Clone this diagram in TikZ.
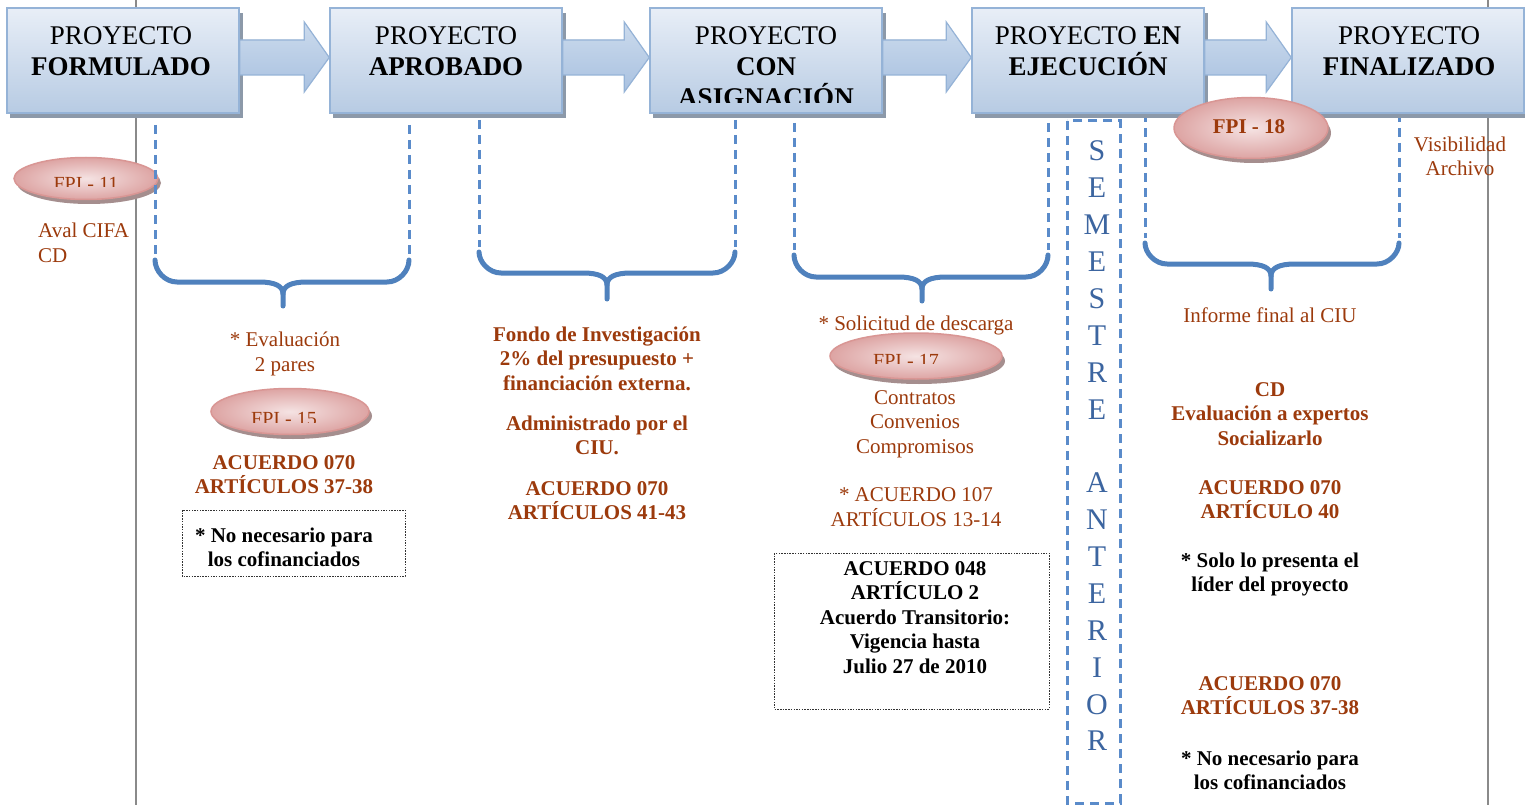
\documentclass[tikz,border=0pt]{standalone}
\usepackage{fontspec}
\setmainfont{Liberation Serif}
\usetikzlibrary{shapes.geometric,calc}
\definecolor{brn}{HTML}{9C3A0C}
\definecolor{bxbd}{HTML}{95B3D7}
\definecolor{bxtop}{HTML}{E8EEF7}
\definecolor{bxbot}{HTML}{B7CBE3}
\definecolor{shd}{HTML}{8C99A9}
\definecolor{arrtop}{HTML}{CCDBED}
\definecolor{arrbot}{HTML}{A9C1E0}
\definecolor{bracec}{HTML}{4F81BD}
\definecolor{dashc}{HTML}{5A8BCA}
\definecolor{pinkin}{HTML}{F5E3E3}
\definecolor{pinkout}{HTML}{DDA4A3}
\definecolor{pinkbd}{HTML}{D99694}
\definecolor{pinkshd}{HTML}{A58E8E}
\definecolor{semc}{HTML}{3C65A0}
\definecolor{grayc}{HTML}{8A8A8A}
\tikzset{
  stagebox/.style={draw=bxbd, line width=1.5pt, top color=bxtop, bottom color=bxbot, minimum width=232pt, minimum height=105pt, inner sep=0pt},
  boxshadow/.style={fill=shd},
  flowarrow/.style={draw=bxbd, line width=1.2pt, top color=arrtop, bottom color=arrbot},
  fpi/.style={ellipse, draw=pinkbd, line width=1.5pt, shading=radial, inner color=pinkin, outer color=pinkout, inner sep=0pt},
  fpishadow/.style={fill=pinkshd},
  guide/.style={draw=dashc, line width=3pt, dash pattern=on 9pt off 6pt},
  bracestyle/.style={draw=bracec, line width=5pt, line cap=round, line join=round},
  grayline/.style={draw=grayc, line width=1.5pt},
  notebox/.style={draw=black!80, line width=0.8pt, dash pattern=on 1.5pt off 1.2pt},
  hdr/.style={font=\fontsize{27}{31}\selectfont, anchor=base, inner sep=0pt, align=center},
  body/.style={font=\fontsize{21}{24.5}\selectfont, anchor=base, inner sep=0pt, align=center, text=brn},
  bodyb/.style={body, font=\fontsize{21}{24.5}\selectfont\bfseries},
  blackb/.style={font=\fontsize{21}{24.5}\selectfont\bfseries, anchor=base, inner sep=0pt, align=center, text=black},
  fpitxt/.style={font=\fontsize{20}{24}\selectfont, anchor=base, inner sep=0pt, text=brn},
  semletter/.style={font=\fontsize{30}{36}\selectfont, anchor=base, inner sep=0pt, text=semc}
}
\newcommand{\blockarrow}[2]{%
  \fill[shd, shift={(3,4)}] ($(#1.east)+(0,-20.5)$) -- ($(#2.west)+(-25,-20.5)$) -- ($(#2.west)+(-25,-38.5)$) -- ($(#2.west)+(0,-3)$) -- ($(#2.west)+(-25,31.5)$) -- ($(#2.west)+(-25,14.5)$) -- ($(#1.east)+(0,14.5)$) -- cycle;
  \path[flowarrow] ($(#1.east)+(0,-20.5)$) -- ($(#2.west)+(-25,-20.5)$) -- ($(#2.west)+(-25,-38.5)$) -- ($(#2.west)+(0,-3)$) -- ($(#2.west)+(-25,31.5)$) -- ($(#2.west)+(-25,14.5)$) -- ($(#1.east)+(0,14.5)$) -- cycle;}
\newcommand{\curlybrace}[6]{%
  \draw[bracestyle] (#1,#4) .. controls (#1,#5-11) and (#1+10,#5) .. (#1+22,#5) -- (#3-24,#5) .. controls (#3-8,#5) and (#3,#5+4) .. (#3,#5+12) -- (#3,#6);
  \draw[bracestyle] (#3,#5+12) .. controls (#3,#5+4) and (#3+8,#5) .. (#3+24,#5) -- (#2-22,#5) .. controls (#2-10,#5) and (#2,#5-11) .. (#2,#4);}
\begin{document}
\begin{tikzpicture}[x=1pt,y=-1pt]
\useasboundingbox (0,0) rectangle (1525,805);
\fill[white] (0,0) rectangle (1525,805);
% gray vertical lines
\draw[grayline] (136,0) -- (136,805);
\draw[grayline] (1488,0) -- (1488,805);
% ellipses (lower ones)
\fill[fpishadow] (89,183) ellipse [x radius=72pt, y radius=21pt];
\node[fpi, minimum width=144pt, minimum height=42pt] (e11) at (86,178.5) {};
\fill[fpishadow] (293,416) ellipse [x radius=79pt, y radius=23pt];
\node[fpi, minimum width=158pt, minimum height=46pt] (e15) at (290,411.5) {};
\fill[fpishadow] (919,361) ellipse [x radius=86pt, y radius=23pt];
\node[fpi, minimum width=172pt, minimum height=46pt] (e17) at (916,356) {};
% dashed guides
\draw[guide] (155,125) -- (155,255);
\draw[guide] (409,125) -- (409,255);
\draw[guide] (479,120) -- (479,247);
\draw[guide] (735,120) -- (735,247);
\draw[guide] (794,123) -- (794,250);
\draw[guide] (1048,123) -- (1048,250);
\draw[guide] (1145,113) -- (1145,238);
\draw[guide] (1399,113) -- (1399,238);
% braces
\curlybrace{155}{409}{283}{260}{282}{306}
\curlybrace{479}{735}{607}{252}{273}{299}
\curlybrace{794}{1048}{922}{255}{277}{301}
\curlybrace{1145}{1399}{1271}{243}{264}{289}
% semestre anterior box
\draw[guide] (1067,121) rectangle (1120,803);
% stage boxes
\fill[boxshadow] (10,13) rectangle (243,118);
\fill[boxshadow] (333,13) rectangle (566,118);
\fill[boxshadow] (653,13) rectangle (886,118);
\fill[boxshadow] (975,13) rectangle (1208,118);
\fill[boxshadow] (1295,13) rectangle (1528,118);
\node[stagebox] (b1) at (123,60.5) {};
\node[stagebox] (b2) at (446,60.5) {};
\node[stagebox] (b3) at (766,60.5) {};
\node[stagebox] (b4) at (1088,60.5) {};
\node[stagebox] (b5) at (1408,60.5) {};
\blockarrow{b1}{b2}
\blockarrow{b2}{b3}
\blockarrow{b3}{b4}
\blockarrow{b4}{b5}
% header texts
\node[hdr] (h1a) at (121,45) {PROYECTO};
\node[hdr] (h1b) at (121,76) {\bfseries FORMULADO};
\node[hdr] (h2a) at (446,45) {PROYECTO};
\node[hdr] (h2b) at (446,76) {\bfseries APROBADO};
\node[hdr] (h3a) at (766,45) {PROYECTO};
\node[hdr] (h3b) at (766,76) {\bfseries CON};
\begin{scope}
\clip (650,8) rectangle (882,103);
\node[hdr] (h3c) at (766,107) {\bfseries ASIGNACIÓN};
\end{scope}
\node[hdr] (h4a) at (1088,45) {PROYECTO \textbf{EN}};
\node[hdr] (h4b) at (1088,76) {\bfseries EJECUCIÓN};
\node[hdr] (h5a) at (1409,45) {PROYECTO};
\node[hdr] (h5b) at (1409,76) {\bfseries FINALIZADO};
% FPI-18 ellipse
\fill[fpishadow] (1254,133) ellipse [x radius=77pt, y radius=30pt];
\node[fpi, minimum width=154pt, minimum height=61pt] (e18) at (1251,128) {};
\node[fpitxt, font=\fontsize{21}{24}\selectfont\bfseries] (t18) at (1249,133.5) {FPI - 18};
% clipped FPI labels
\begin{scope}
\clip (10,150) rectangle (160,187);
\node[fpitxt] (t11) at (86,190) {FPI - 11};
\end{scope}
\begin{scope}
\clip (200,380) rectangle (380,422);
\node[fpitxt] (t15) at (284,425) {FPI - 15};
\end{scope}
\begin{scope}
\clip (820,330) rectangle (1010,363.5);
\node[fpitxt] (t17) at (906,367) {FPI - 17};
\end{scope}
% column 1 (multi-line nodes: base = last line baseline)
\node[body, align=left, anchor=base west] (aval) at (38,262) {Aval CIFA\\CD};
\node[body] (eval) at (285,371) {* Evaluación\\2 pares};
\node[bodyb] (ac1) at (284,493.5) {ACUERDO 070\\ARTÍCULOS 37-38};
\draw[notebox] (182,510) rectangle (405,576);
\node[blackb] (nn1) at (284,566.5) {* No necesario para\\los cofinanciados};
% column 2
\node[bodyb] (fondo) at (597,390) {Fondo de Investigación\\2\% del presupuesto +\\financiación externa.};
\node[bodyb] (admin) at (597,454.5) {Administrado por el\\CIU.};
\node[bodyb] (ac2) at (597,519.5) {ACUERDO 070\\ARTÍCULOS 41-43};
% column 3
\node[body] (sol) at (916,330) {* Solicitud de descarga};
\node[body] (contr) at (915,453) {Contratos\\Convenios\\Compromisos};
\node[body] (ac3) at (916,526) {* ACUERDO 107\\ARTÍCULOS 13-14};
\draw[notebox] (774,553) rectangle (1049,709);
\node[blackb] (ac4) at (915,673) {ACUERDO 048\\ARTÍCULO 2\\Acuerdo Transitorio:\\Vigencia hasta\\Julio 27 de 2010};
% column 4
\node[body] (inf) at (1270,322) {Informe final al CIU};
\node[bodyb] (cd) at (1270,445) {CD\\Evaluación a expertos\\Socializarlo};
\node[bodyb] (ac5) at (1270,518.5) {ACUERDO 070\\ARTÍCULO 40};
\node[blackb] (solo) at (1270,591.5) {* Solo lo presenta el\\líder del proyecto};
\node[bodyb] (ac6) at (1270,714.5) {ACUERDO 070\\ARTÍCULOS 37-38};
\node[blackb] (nn2) at (1270,789.5) {* No necesario para\\los cofinanciados};
\node[body] (vis) at (1460,175.5) {Visibilidad\\Archivo};
% semestre anterior letters
\foreach \ch/\yy [count=\i] in {S/161,E/197,M/234,E/271,S/308,T/345,R/382,E/419,A/492,N/529,T/566,E/603,R/640,I/677,O/714,R/750}
  \node[semletter] (sem\i) at (1097,\yy) {\ch};
\end{tikzpicture}
\end{document}
